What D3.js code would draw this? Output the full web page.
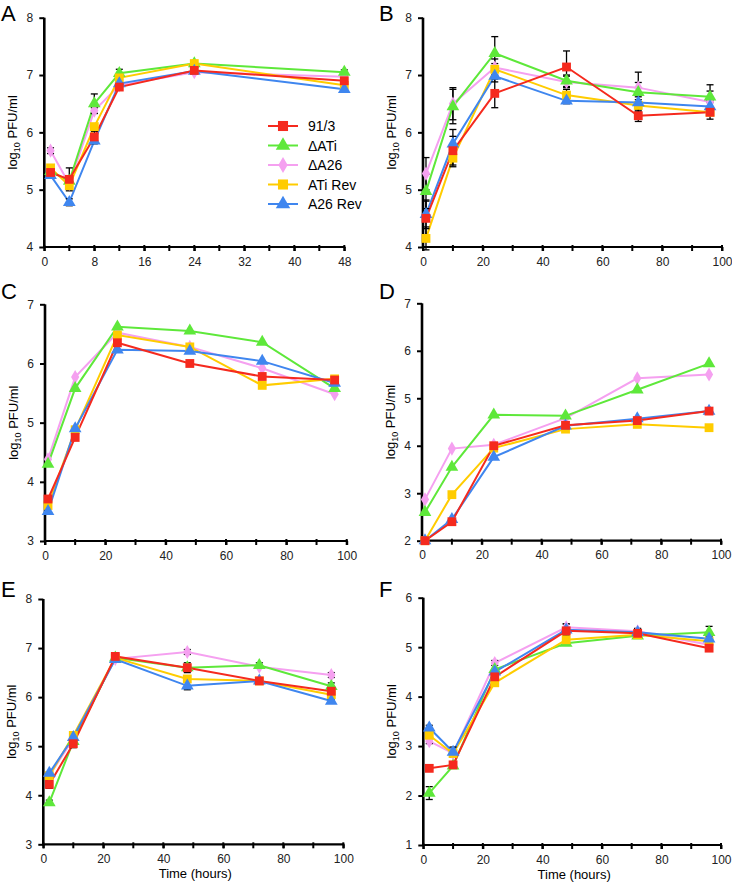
<!DOCTYPE html>
<html>
<head>
<meta charset="utf-8">
<script src="https://cdn.jsdelivr.net/npm/d3@7"></script>
<style>
  html, body { margin: 0; padding: 0; background: #fff; }
  svg { display: block; }
  text { font-family: "Liberation Sans", Arial, Helvetica, sans-serif; }
</style>
</head>
<body>
<svg id="chart" width="732" height="887"></svg>
<script>
// ---------- DATA ----------
const seriesNames = ["91/3", "ΔATi", "ΔA26", "ATi Rev", "A26 Rev"];
const seriesColors = ["#f52a1e", "#5ee83a", "#f5a0f0", "#ffcc00", "#3f86ef"];
const seriesShapes = ["square", "triangle", "diamond", "square", "triangle"];

// Panel A
const timeA = [1, 4, 8, 12, 24, 48];
const valuesA = [
  [5.30, 5.18, 5.92, 6.79, 7.08, 6.90],
  [5.32, 5.15, 6.50, 7.03, 7.20, 7.05],
  [5.68, 5.10, 6.38, 6.82, 7.05, 6.97],
  [5.38, 5.07, 6.10, 6.95, 7.20, 6.82],
  [5.25, 4.78, 5.85, 6.85, 7.07, 6.75]
];
const errorsA = [
  [0.05, 0.20, 0.10, 0.05, 0.04, 0.05],
  [0.05, 0.05, 0.17, 0.07, 0.03, 0.04],
  [0.05, 0.05, 0.05, 0.05, 0.03, 0.03],
  [0.05, 0.05, 0.05, 0.05, 0.03, 0.03],
  [0.05, 0.06, 0.05, 0.05, 0.03, 0.03]
];

// Panel B
const timeB = [1, 10, 24, 48, 72, 96];
const valuesB = [
  [4.50, 5.68, 6.68, 7.14, 6.29, 6.35],
  [4.97, 6.45, 7.38, 6.90, 6.70, 6.62],
  [5.28, 6.50, 7.13, 6.88, 6.78, 6.53],
  [4.15, 5.55, 7.10, 6.65, 6.47, 6.35],
  [4.57, 5.80, 6.98, 6.55, 6.52, 6.45]
];
const errorsB = [
  [0.30, 0.25, 0.25, 0.28, 0.10, 0.05],
  [0.30, 0.30, 0.29, 0.10, 0.17, 0.10],
  [0.28, 0.28, 0.15, 0.10, 0.27, 0.30],
  [0.20, 0.15, 0.10, 0.10, 0.10, 0.05],
  [0.25, 0.25, 0.10, 0.05, 0.10, 0.10]
];

// Panel C
const timeC = [1, 10, 24, 48, 72, 96];
const valuesC = [
  [3.71, 4.75, 6.35, 6.00, 5.78, 5.72],
  [4.30, 5.58, 6.62, 6.55, 6.36, 5.58],
  [4.38, 5.77, 6.52, 6.28, 5.92, 5.48],
  [3.60, 4.88, 6.48, 6.28, 5.63, 5.74],
  [3.50, 4.90, 6.23, 6.21, 6.04, 5.67]
];

// Panel D
const timeD = [1, 10, 24, 48, 72, 96];
const valuesD = [
  [2.00, 2.40, 4.00, 4.43, 4.53, 4.73],
  [2.60, 3.55, 4.65, 4.63, 5.18, 5.73],
  [2.87, 3.94, 4.02, 4.58, 5.42, 5.50],
  [2.00, 2.97, 3.95, 4.35, 4.45, 4.38],
  [2.00, 2.45, 3.76, 4.42, 4.57, 4.73]
];

// Panel E
const timeE = [2, 10, 24, 48, 72, 96];
const valuesE = [
  [4.22, 5.05, 6.83, 6.60, 6.33, 6.12],
  [3.85, 5.10, 6.80, 6.60, 6.65, 6.22],
  [4.40, 5.15, 6.78, 6.92, 6.62, 6.45],
  [4.40, 5.22, 6.80, 6.37, 6.33, 6.05],
  [4.45, 5.18, 6.77, 6.23, 6.33, 5.92]
];
const errorsE = [
  [0.08, 0.08, 0.05, 0.10, 0.05, 0.08],
  [0.05, 0.00, 0.00, 0.00, 0.05, 0.07],
  [0.00, 0.00, 0.00, 0.05, 0.03, 0.05],
  [0.05, 0.00, 0.00, 0.06, 0.00, 0.00],
  [0.00, 0.00, 0.00, 0.08, 0.00, 0.04]
];

// Panel F
const timeF = [2, 10, 24, 48, 72, 96];
const valuesF = [
  [2.55, 2.62, 4.40, 5.33, 5.28, 4.98],
  [2.05, 2.60, 4.55, 5.08, 5.23, 5.30],
  [3.10, 2.85, 4.68, 5.40, 5.32, 5.05],
  [3.22, 2.85, 4.28, 5.15, 5.25, 5.12],
  [3.37, 2.88, 4.50, 5.35, 5.30, 5.17]
];
const errorsF = [
  [0.05, 0.05, 0.05, 0.05, 0.05, 0.05],
  [0.13, 0.00, 0.00, 0.00, 0.00, 0.12],
  [0.05, 0.00, 0.05, 0.07, 0.05, 0.00],
  [0.05, 0.00, 0.05, 0.05, 0.05, 0.05],
  [0.05, 0.10, 0.05, 0.12, 0.08, 0.05]
];

const xTicksA = [0, 8, 16, 24, 32, 40, 48];
const xTicks100 = [0, 20, 40, 60, 80, 100];

// ---------- LAYOUT ----------
const panels = [
  { letter: "A", times: timeA, values: valuesA, errors: errorsA, xDomain: [0, 48], xTicks: xTicksA, xMinor: 4,
    yDomain: [4, 8], x0: 44.3, x1: 344.3, yTop: 17.7, yBot: 247, lx: 1, ly: 21, legend: true },
  { letter: "B", times: timeB, values: valuesB, errors: errorsB, xDomain: [0, 100], xTicks: xTicks100, xMinor: 10,
    yDomain: [4, 8], x0: 423, x1: 722, yTop: 17.7, yBot: 247, lx: 379, ly: 21 },
  { letter: "C", times: timeC, values: valuesC, errors: null, xDomain: [0, 100], xTicks: xTicks100, xMinor: 10,
    yDomain: [3, 7], x0: 45, x1: 346.7, yTop: 304.3, yBot: 541, lx: 1, ly: 299 },
  { letter: "D", times: timeD, values: valuesD, errors: null, xDomain: [0, 100], xTicks: xTicks100, xMinor: 10,
    yDomain: [2, 7], x0: 422, x1: 721, yTop: 303.3, yBot: 540.7, lx: 379, ly: 299 },
  { letter: "E", times: timeE, values: valuesE, errors: errorsE, xDomain: [0, 100], xTicks: xTicks100, xMinor: 10,
    yDomain: [3, 8], x0: 43.3, x1: 343.3, yTop: 599, yBot: 844.3, lx: 1, ly: 597, xTitle: true },
  { letter: "F", times: timeF, values: valuesF, errors: errorsF, xDomain: [0, 100], xTicks: xTicks100, xMinor: 10,
    yDomain: [1, 6], x0: 423.3, x1: 721, yTop: 597.7, yBot: 845, lx: 379, ly: 597, xTitle: true }
];

const svg = d3.select("#chart");
const symbolType = { square: d3.symbolSquare, triangle: d3.symbolTriangle, diamond: d3.symbolDiamond };
const symbolSize = { square: 78, triangle: 70, diamond: 58 };
const drawOrder = [2, 1, 3, 4, 0];

panels.forEach(p => {
  const g = svg.append("g");
  const x = d3.scaleLinear().domain(p.xDomain).range([p.x0, p.x1]);
  const y = d3.scaleLinear().domain(p.yDomain).range([p.yBot, p.yTop]);

  // panel letter
  g.append("text").attr("x", p.lx).attr("y", p.ly).attr("font-size", 22).attr("fill", "#000").text(p.letter);

  // minor x ticks
  const minor = d3.range(p.xDomain[0], p.xDomain[1] + 0.001, p.xMinor);
  g.selectAll(".minor").data(minor).enter().append("line")
    .attr("x1", d => x(d)).attr("x2", d => x(d))
    .attr("y1", p.yBot - 2).attr("y2", p.yBot + 4)
    .attr("stroke", "#000").attr("stroke-width", 2);

  // x axis
  const xAxis = d3.axisBottom(x).tickValues(p.xTicks).tickSize(4).tickPadding(6).tickFormat(d3.format("d"));
  const xg = g.append("g").attr("transform", `translate(0,${p.yBot})`).call(xAxis);
  xg.select(".domain").attr("stroke-width", 2.2).attr("d", `M${p.x0 - 1},0H${p.x1 + 1}`);
  xg.selectAll(".tick line").attr("stroke-width", 2);
  xg.selectAll(".tick text").attr("font-size", 12).attr("font-family", "Liberation Sans, Arial, sans-serif").attr("fill", "#222");

  // y axis
  const yTicks = d3.range(p.yDomain[0], p.yDomain[1] + 0.001, 1);
  const yAxis = d3.axisLeft(y).tickValues(yTicks).tickSize(5).tickPadding(6).tickFormat(d3.format("d"));
  const yg = g.append("g").attr("transform", `translate(${p.x0},0)`).call(yAxis);
  yg.select(".domain").attr("stroke-width", 2.6).attr("d", `M0,${p.yTop}V${p.yBot + 1}`);
  yg.selectAll(".tick line").attr("stroke-width", 2);
  yg.selectAll(".tick text").attr("font-size", 12).attr("font-family", "Liberation Sans, Arial, sans-serif").attr("fill", "#222");

  // y label
  const yl = g.append("text")
    .attr("transform", `translate(${p.x0 - 27},${(p.yTop + p.yBot) / 2}) rotate(-90)`)
    .attr("text-anchor", "middle").attr("font-size", 13).attr("fill", "#000");
  yl.append("tspan").text("log");
  yl.append("tspan").attr("font-size", 9).attr("dy", 3).text("10");
  yl.append("tspan").attr("dy", -3).text(" PFU/ml");

  if (p.xTitle) {
    g.append("text").attr("x", (p.x0 + p.x1) / 2 + 2).attr("y", p.yBot + 34)
      .attr("text-anchor", "middle").attr("font-size", 13).attr("fill", "#000").text("Time (hours)");
  }

  const line = d3.line().x(d => x(d[0])).y(d => y(d[1]));

  // lines
  drawOrder.forEach(si => {
    const pts = p.times.map((t, i) => [t, p.values[si][i]]);
    g.append("path").attr("d", line(pts)).attr("fill", "none")
      .attr("stroke", seriesColors[si]).attr("stroke-width", 2);
  });

  // error bars
  if (p.errors) {
    drawOrder.forEach(si => {
      p.times.forEach((t, i) => {
        const e = p.errors[si][i];
        if (!e) return;
        const v = p.values[si][i];
        const cx = x(t);
        g.append("line").attr("x1", cx).attr("x2", cx).attr("y1", y(v - e)).attr("y2", y(v + e))
          .attr("stroke", "#000").attr("stroke-width", 1.3);
        [v - e, v + e].forEach(vv => {
          g.append("line").attr("x1", cx - 3.5).attr("x2", cx + 3.5).attr("y1", y(vv)).attr("y2", y(vv))
            .attr("stroke", "#000").attr("stroke-width", 1.3);
        });
      });
    });
  }

  // markers
  drawOrder.forEach(si => {
    const sh = seriesShapes[si];
    const sym = d3.symbol().type(symbolType[sh]).size(symbolSize[sh]);
    p.times.forEach((t, i) => {
      g.append("path").attr("d", sym())
        .attr("transform", `translate(${x(t)},${y(p.values[si][i])})`)
        .attr("fill", seriesColors[si]);
    });
  });

  // legend
  if (p.legend) {
    const ly0 = 126, step = 19.5;
    seriesNames.forEach((name, si) => {
      const yy = ly0 + si * step;
      g.append("line").attr("x1", 268).attr("x2", 298).attr("y1", yy).attr("y2", yy)
        .attr("stroke", seriesColors[si]).attr("stroke-width", 2);
      const sh = seriesShapes[si];
      g.append("path").attr("d", d3.symbol().type(symbolType[sh]).size(symbolSize[sh] * 1.3)())
        .attr("transform", `translate(283,${yy})`).attr("fill", seriesColors[si]);
      g.append("text").attr("x", 308).attr("y", yy + 5).attr("font-size", 14).attr("fill", "#000").text(name);
    });
  }
});
</script>
</body>
</html>
